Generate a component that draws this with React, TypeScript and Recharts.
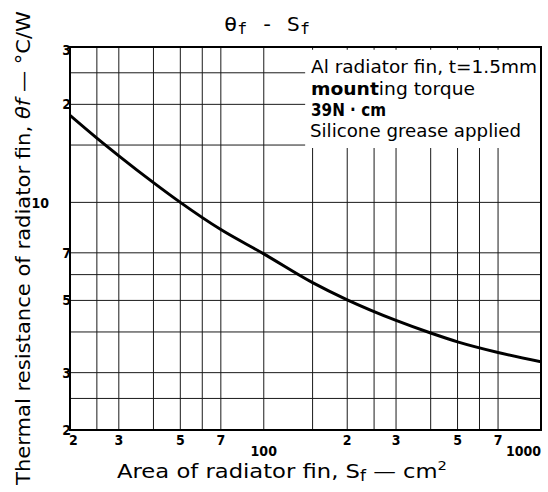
import React from 'react';
import { LineChart, Line, XAxis, YAxis, CartesianGrid, ReferenceArea } from 'recharts';

// Area of radiator fin (cm^2) and thermal resistance (°C/W)
const areaCm2 = [20, 25, 30, 40, 50, 70, 100, 150, 200, 300, 400, 500, 700, 1000];
const thetaF = [18.5, 15.75, 13.9, 11.5, 10.0, 8.25, 6.95, 5.67, 5.02, 4.34, 3.97, 3.73, 3.46, 3.24];

// grid lines and the labels printed on them
const xGrid = [20, 25, 30, 40, 50, 60, 70, 100, 150, 200, 250, 300, 400, 500, 600, 700, 1000];
const xTickLabels: Record<number, string> = { 20: '2', 30: '3', 50: '5', 70: '7', 100: '100', 200: '2', 300: '3', 500: '5', 700: '7', 1000: '1000' };
const yGrid = [2, 2.5, 3, 4, 5, 6, 7, 10, 15, 20, 25, 30];
const yTickLabels: Record<number, string> = { 2: '2', 3: '3', 5: '5', 7: '7', 10: '10', 20: '2', 30: '3' };

const data = areaCm2.map((s, i) => ({ s, theta: thetaF[i] }));

const tickFont = "'Liberation Sans Narrow', 'DejaVu Sans Condensed', sans-serif";
const textFont = "'DejaVu Sans', 'Liberation Sans', sans-serif";

const PLOT_LEFT = 70;
const PLOT_BOTTOM = 430;

const XTick = ({ x, payload }: any) => {
  const v = payload.value;
  const label = xTickLabels[v];
  if (!label) return null;
  const big = v === 100 || v === 1000;
  let anchor = 'middle';
  if (v === 20) anchor = 'start';
  if (v === 1000) anchor = 'end';
  return (
    <text x={v === 20 ? x - 1 : x} y={PLOT_BOTTOM + (big ? 26 : 15)} textAnchor={anchor} fontFamily={tickFont} fontWeight="bold" fontSize={14} fill="#000">
      {label}
    </text>
  );
};

const YTick = ({ y, payload }: any) => {
  const v = payload.value;
  const label = yTickLabels[v];
  if (!label) return null;
  const shift = v === 10 ? -22 : 0;
  const dy = v === 30 ? 8 : v === 10 ? 6 : 5;
  return (
    <text x={PLOT_LEFT + 1 + shift} y={y + dy} textAnchor="end" fontFamily={tickFont} fontWeight="bold" fontSize={14} fill="#000">
      {label}
    </text>
  );
};

export default function App() {
  return (
    <div style={{ position: 'absolute', left: 0, top: 0, width: 548, height: 492, background: '#fff' }}>
      <LineChart width={548} height={492} data={data} margin={{ top: 47, right: 7, bottom: 32, left: 40 }}>
        <CartesianGrid stroke="#1a1a1a" strokeWidth={1} />
        <XAxis
          dataKey="s"
          type="number"
          scale="log"
          domain={[20, 1000]}
          ticks={xGrid}
          interval={0}
          height={30}
          tickLine={false}
          axisLine={false}
          tick={<XTick />}
          allowDataOverflow
        />
        <YAxis
          type="number"
          scale="log"
          domain={[2, 30]}
          ticks={yGrid}
          interval={0}
          width={30}
          tickLine={false}
          axisLine={false}
          tick={<YTick />}
          allowDataOverflow
        />
        <ReferenceArea x1={141} x2={1000} y1={14.7} y2={29.4} fill="#fff" fillOpacity={1} stroke="none" />
        <Line type="monotone" dataKey="theta" stroke="#000" strokeWidth={3} dot={false} isAnimationActive={false} />
        <ReferenceArea x1={20} x2={1000} y1={2} y2={30} fill="none" stroke="#000" strokeWidth={2} />
      </LineChart>
      <svg width={548} height={492} style={{ position: 'absolute', left: 0, top: 0, pointerEvents: 'none' }}>
        <text x={224} y={31} fontFamily="'DejaVu Sans Mono', monospace" fontSize={20} fill="#000" textLength={86} lengthAdjust="spacingAndGlyphs">
          θ<tspan fontSize={15} dy={3}>f</tspan><tspan dy={-3}> - S</tspan><tspan fontSize={15} dy={3}>f</tspan>
        </text>
        <g fontFamily={textFont} fontSize={17} fill="#000">
          <text x={311} y={73} textLength={226} lengthAdjust="spacingAndGlyphs">Al radiator fin, t=1.5mm</text>
          <text x={311} y={95} textLength={164} lengthAdjust="spacingAndGlyphs">
            <tspan fontWeight="bold">mount</tspan>ing torque
          </text>
          <text x={311} y={116} fontWeight="bold" textLength={75} lengthAdjust="spacingAndGlyphs">39N · cm</text>
          <text x={310} y={137} textLength={211} lengthAdjust="spacingAndGlyphs">Silicone grease applied</text>
        </g>
        <text x={117} y={478} fontFamily={textFont} fontSize={20} fill="#000" textLength={330} lengthAdjust="spacingAndGlyphs">
          Area of radiator fin, S<tspan fontSize={15} dy={3}>f</tspan><tspan dy={-3}> — cm</tspan><tspan fontSize={13} dy={-8}>2</tspan>
        </text>
        <text
          transform="translate(30, 485) rotate(-90)"
          x={0}
          y={0}
          fontFamily={textFont}
          fontSize={20}
          fill="#000"
          textLength={474}
          lengthAdjust="spacingAndGlyphs"
        >
          Thermal resistance of radiator fin, <tspan fontStyle="italic">θf</tspan> — °C/W
        </text>
      </svg>
    </div>
  );
}
